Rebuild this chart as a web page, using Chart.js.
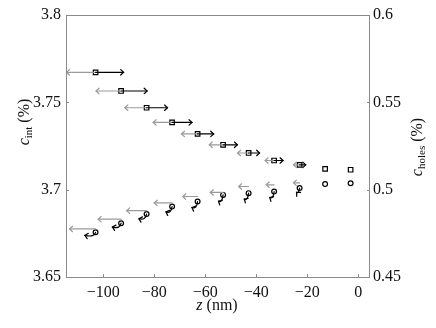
<!DOCTYPE html>
<html>
<head>
<meta charset="utf-8">
<script src="https://cdn.jsdelivr.net/npm/chart.js@4/dist/chart.umd.min.js"></script>
<style>
html,body{margin:0;padding:0;background:#fff;}
#wrap{width:436px;height:328px;position:relative;}
</style>
</head>
<body>
<div id="wrap"><canvas id="c" width="436" height="328"></canvas></div>
<script>
// ---- data ----
const z = [-103, -93, -83, -73, -63, -53, -43, -33, -23, -13, -3];
const cInt = [3.7672, 3.7565, 3.7469, 3.7385, 3.7319, 3.7257, 3.7210, 3.7167, 3.7142, 3.7119, 3.7114];
const cHoles = [0.4756, 0.4808, 0.4860, 0.4903, 0.4932, 0.4970, 0.4980, 0.4989, 0.5009, 0.5032, 0.5037];
// arrow lengths (nm) for c_int: grey to the left, black to the right
const intLeft = [11.4, 9.8, 8.5, 7.4, 6.3, 5.4, 4.3, 3.5, 2.4, 0, 0];
const intRight = [11.0, 10.2, 8.2, 7.8, 6.3, 5.6, 4.3, 3.5, 2.4, 0, 0];
// grey arrows for c_holes: level and length
const holesGrayC = [0.4775, 0.4831, 0.4880, 0.4924, 0.4961, 0.4984, 0.5018, 0.5028, 0.5039, 0, 0];
const holesLeft = [10.2, 9.0, 7.8, 7.0, 5.8, 5.0, 3.9, 3.1, 2.4, 0, 0];
// black curled arrows for c_holes: end offsets
const holesCurlDz = [-4.2, -3.4, -3.0, -2.4, -2.2, -1.8, -1.7, -1.7, -1.2, 0, 0];
const holesCurlDc = [-0.0018, -0.0022, -0.0026, -0.0030, -0.0034, -0.0036, -0.0034, -0.0034, -0.0024, 0, 0];
// ticks
const xTicks = [-100, -80, -60, -40, -20, 0];
const yLeftTicks = [3.65, 3.7, 3.75, 3.8];
const yRightTicks = [0.45, 0.5, 0.55, 0.6];
const xRange = [-114.6, 4.6];
const yLeftRange = [3.65, 3.8];
const yRightRange = [0.45, 0.6];

const FONT = '"Liberation Serif", serif';
const GREY = '#9a9a9a';
const FRAME = '#8a8a8a';

function fmt(v){
  let s = String(Math.round(v*1000)/1000);
  return s.replace('-', '\u2212');
}

function head(ctx, x, y, ang, color){
  const L = 4, a = 0.75;
  ctx.strokeStyle = color;
  ctx.beginPath();
  ctx.moveTo(x - L*Math.cos(ang - a), y - L*Math.sin(ang - a));
  ctx.lineTo(x, y);
  ctx.lineTo(x - L*Math.cos(ang + a), y - L*Math.sin(ang + a));
  ctx.stroke();
}
function hArrow(ctx, x0, y, x1, color){
  if (Math.abs(x1 - x0) < 0.5) return;
  ctx.strokeStyle = color;
  ctx.beginPath(); ctx.moveTo(x0, y); ctx.lineTo(x1, y); ctx.stroke();
  head(ctx, x1, y, x1 > x0 ? 0 : Math.PI, color);
}

const arrowPlugin = {
  id: 'arrows',
  afterDatasetsDraw(chart){
    const ctx = chart.ctx, x = chart.scales.x, y = chart.scales.y, y1 = chart.scales.y1;
    ctx.save();
    ctx.lineWidth = 1.2;
    ctx.lineCap = 'round';
    for (let i = 0; i < z.length; i++){
      const px = x.getPixelForValue(z[i]);
      const py = y.getPixelForValue(cInt[i]);
      if (intLeft[i] > 0) hArrow(ctx, px, py, x.getPixelForValue(z[i] - intLeft[i]), GREY);
      if (intRight[i] > 0) hArrow(ctx, px, py, x.getPixelForValue(z[i] + intRight[i]), '#000');
      if (holesLeft[i] > 0){
        const gy = y1.getPixelForValue(holesGrayC[i]);
        hArrow(ctx, px, gy, x.getPixelForValue(z[i] - holesLeft[i]), GREY);
      }
      if (holesCurlDz[i] !== 0){
        const cx = px, cy = y1.getPixelForValue(cHoles[i]);
        const ex = x.getPixelForValue(z[i] + holesCurlDz[i]);
        const ey = y1.getPixelForValue(cHoles[i] + holesCurlDc[i]);
        const qx = cx - 1, qy = ey + 2;
        ctx.strokeStyle = '#000';
        ctx.beginPath(); ctx.moveTo(cx, cy); ctx.quadraticCurveTo(qx, qy, ex, ey); ctx.stroke();
        head(ctx, ex, ey, Math.atan2(ey - qy, ex - qx), '#000');
      }
    }
    ctx.restore();
  }
};

const framePlugin = {
  id: 'frame',
  afterDraw(chart){
    const ctx = chart.ctx, a = chart.chartArea;
    const x = chart.scales.x, y = chart.scales.y, y1 = chart.scales.y1;
    ctx.save();
    ctx.strokeStyle = FRAME; ctx.lineWidth = 1;
    ctx.strokeRect(Math.round(a.left)+0.5, Math.round(a.top)+0.5, Math.round(a.right-a.left)-1, Math.round(a.bottom-a.top));
    ctx.beginPath();
    xTicks.forEach(t => { const p = Math.round(x.getPixelForValue(t))+0.5; ctx.moveTo(p, a.bottom); ctx.lineTo(p, a.bottom-3); });
    yLeftTicks.forEach(t => { const p = Math.round(y.getPixelForValue(t))+0.5; ctx.moveTo(a.left, p); ctx.lineTo(a.left+3, p); });
    yRightTicks.forEach(t => { const p = Math.round(y1.getPixelForValue(t))+0.5; ctx.moveTo(a.right, p); ctx.lineTo(a.right-3, p); });
    ctx.stroke();
    // axis titles
    ctx.fillStyle = '#111';
    function label(parts, cx, cy, rot){
      ctx.save();
      ctx.translate(cx, cy); ctx.rotate(rot);
      let w = 0;
      parts.forEach(p => { ctx.font = p.f; w += ctx.measureText(p.t).width; });
      let xx = -w/2;
      ctx.textBaseline = 'alphabetic'; ctx.textAlign = 'left';
      parts.forEach(p => { ctx.font = p.f; ctx.fillText(p.t, xx, p.dy || 0); xx += ctx.measureText(p.t).width; });
      ctx.restore();
    }
    label([{t:'z', f:'italic 16px '+FONT}, {t:' (nm)', f:'16px '+FONT}], 217, 310, 0);
    label([{t:'c', f:'italic 16px '+FONT}, {t:'int', f:'11px '+FONT, dy:3}, {t:' (%)', f:'16px '+FONT}], 29, 122, -Math.PI/2);
    label([{t:'c', f:'italic 16px '+FONT}, {t:'holes', f:'11px '+FONT, dy:3}, {t:' (%)', f:'16px '+FONT}], 422, 147, -Math.PI/2);
    ctx.restore();
  }
};

function fixTicks(arr){ return function(scale){ scale.ticks = arr.map(v => ({value: v})); }; }

new Chart(document.getElementById('c'), {
  type: 'scatter',
  data: {
    datasets: [
      { label: 'c_int', yAxisID: 'y', data: z.map((v,i) => ({x: v, y: cInt[i]})),
        pointStyle: 'rect', pointRadius: 3.2, borderColor: '#000', backgroundColor: '#fff', borderWidth: 1.2 },
      { label: 'c_holes', yAxisID: 'y1', data: z.map((v,i) => ({x: v, y: cHoles[i]})),
        pointStyle: 'circle', pointRadius: 2.4, borderColor: '#000', backgroundColor: '#fff', borderWidth: 1.2 }
    ]
  },
  options: {
    responsive: false, animation: false, devicePixelRatio: 1,
    layout: { padding: { top: 15, left: 0, right: 0, bottom: 0 } },
    plugins: { legend: { display: false }, tooltip: { enabled: false } },
    scales: {
      x: { type: 'linear', min: xRange[0], max: xRange[1], afterBuildTicks: fixTicks(xTicks),
           afterFit: s => { s.height = 51; },
           grid: { display: false, drawTicks: false }, border: { display: false },
           ticks: { padding: 6, color: '#111', font: { family: FONT, size: 16 }, callback: v => fmt(v), maxRotation: 0, autoSkip: false } },
      y: { type: 'linear', position: 'left', min: yLeftRange[0], max: yLeftRange[1], afterBuildTicks: fixTicks(yLeftTicks),
           afterFit: s => { s.width = 66; },
           grid: { display: false, drawTicks: false }, border: { display: false },
           ticks: { padding: 5, color: '#111', font: { family: FONT, size: 16 }, callback: v => fmt(v), autoSkip: false } },
      y1: { type: 'linear', position: 'right', min: yRightRange[0], max: yRightRange[1], afterBuildTicks: fixTicks(yRightTicks),
           afterFit: s => { s.width = 66; },
           grid: { display: false, drawTicks: false }, border: { display: false },
           ticks: { padding: 3, color: '#111', font: { family: FONT, size: 16 }, callback: v => fmt(v), autoSkip: false } }
    }
  },
  plugins: [arrowPlugin, framePlugin]
});
</script>
</body>
</html>
